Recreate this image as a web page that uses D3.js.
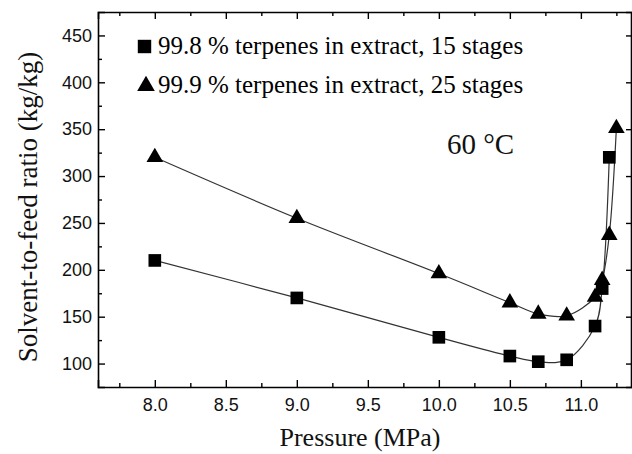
<!DOCTYPE html>
<html>
<head>
<meta charset="utf-8">
<script src="https://cdn.jsdelivr.net/npm/d3@7"></script>
<style>
  body { margin: 0; background: #fff; }
  svg { display: block; }
  .sans { font-family: "Liberation Sans", Arimo, Arial, Helvetica, sans-serif; }
  .serif { font-family: "Liberation Serif", Tinos, "Times New Roman", Times, "DejaVu Serif", serif; }
</style>
</head>
<body>
<svg id="chart" width="632" height="454"></svg>
<script>
// THE DATA
// pressure (MPa) for each series
const pressSquares = [8.0, 9.0, 10.0, 10.5, 10.7, 10.9, 11.1, 11.15, 11.2];
const ratioSquares = [210, 170, 128, 108, 102, 104, 140, 180, 320];

const pressTriangles = [8.0, 9.0, 10.0, 10.5, 10.7, 10.9, 11.1, 11.15, 11.2, 11.25];
const ratioTriangles = [320, 255, 196, 165, 153, 151, 171, 189, 237, 351];

const xTicks = [8.0, 8.5, 9.0, 9.5, 10.0, 10.5, 11.0];
const xMinor = [7.75, 8.25, 8.75, 9.25, 9.75, 10.25, 10.75, 11.25];
const yTicks = [100, 150, 200, 250, 300, 350, 400, 450];
const yMinor = [125, 175, 225, 275, 325, 375, 425];

const legendLabels = [
  "99.8 % terpenes in extract, 15 stages",
  "99.9 % terpenes in extract, 25 stages"
];

// SETTING UP
const svg = d3.select("#chart");
const mLeft = 98, mRight = 632, mTop = 12, mBottom = 387;

const x = d3.scaleLinear().domain([7.6, 11.36]).range([mLeft, mRight]);
const y = d3.scaleLinear().domain([75, 475]).range([mBottom, mTop]);

// axes (ticks point inward)
function styleAxis(g, fontSize) {
  g.attr("font-family", null);
  g.selectAll("path.domain").attr("stroke", "#000").attr("stroke-width", 1.6);
  g.selectAll(".tick line").attr("stroke", "#000").attr("stroke-width", 1.4);
  g.selectAll("text").attr("class", "sans").style("font-size", fontSize + "px").attr("fill", "#111");
}

svg.append("g")
  .attr("transform", `translate(0,${mBottom})`)
  .call(d3.axisBottom(x).tickValues(xTicks).tickSize(-7).tickPadding(11).tickFormat(d3.format(".1f")))
  .call(g => styleAxis(g, 18));

svg.append("g")
  .attr("transform", `translate(0,${mBottom})`)
  .call(d3.axisBottom(x).tickValues(xMinor).tickSize(-4).tickFormat(""))
  .call(g => styleAxis(g, 18))
  .call(g => g.select("path.domain").remove());

svg.append("g")
  .attr("transform", `translate(0,${mTop})`)
  .call(d3.axisTop(x).tickValues(xTicks).tickSize(-7).tickFormat(""))
  .call(g => styleAxis(g, 18));

svg.append("g")
  .attr("transform", `translate(0,${mTop})`)
  .call(d3.axisTop(x).tickValues(xMinor).tickSize(-4).tickFormat(""))
  .call(g => styleAxis(g, 18))
  .call(g => g.select("path.domain").remove());

svg.append("g")
  .attr("transform", `translate(${mLeft},0)`)
  .call(d3.axisLeft(y).tickValues(yTicks).tickSize(-7).tickPadding(6))
  .call(g => styleAxis(g, 18));

svg.append("g")
  .attr("transform", `translate(${mLeft},0)`)
  .call(d3.axisLeft(y).tickValues(yMinor).tickSize(-4).tickFormat(""))
  .call(g => styleAxis(g, 18))
  .call(g => g.select("path.domain").remove());

svg.append("g")
  .attr("transform", `translate(${mRight - 1},0)`)
  .call(d3.axisRight(y).tickValues(yTicks).tickSize(-5).tickFormat(""))
  .call(g => styleAxis(g, 18));

// axis titles
svg.append("text")
  .attr("class", "serif")
  .attr("x", 360)
  .attr("y", 446)
  .attr("text-anchor", "middle")
  .style("font-size", "26px")
  .attr("fill", "#111")
  .text("Pressure (MPa)");

svg.append("text")
  .attr("class", "serif")
  .attr("transform", "translate(37,207) rotate(-90)")
  .attr("text-anchor", "middle")
  .style("font-size", "27px")
  .attr("fill", "#111")
  .text("Solvent-to-feed ratio (kg/kg)");

// LINES AND MARKERS
const line = d3.line()
  .x(d => x(d[0]))
  .y(d => y(d[1]))
  .curve(d3.curveCatmullRom.alpha(0.5));

const sqData = d3.zip(pressSquares, ratioSquares);
const trData = d3.zip(pressTriangles, ratioTriangles);

[sqData, trData].forEach(data => {
  svg.append("path")
    .datum(data)
    .attr("d", line)
    .attr("fill", "none")
    .attr("stroke", "#333")
    .attr("stroke-width", 1.2);
});

const squareSym = d3.symbol().type(d3.symbolSquare).size(160);
const triSym = d3.symbol().type(d3.symbolTriangle).size(120);

svg.append("g")
  .selectAll("path")
  .data(sqData)
  .join("path")
  .attr("transform", d => `translate(${x(d[0])},${y(d[1])})`)
  .attr("d", squareSym)
  .attr("fill", "#000");

svg.append("g")
  .selectAll("path")
  .data(trData)
  .join("path")
  .attr("transform", d => `translate(${x(d[0])},${y(d[1])})`)
  .attr("d", triSym)
  .attr("fill", "#000");

// LEGEND
const legend = svg.append("g");
legend.append("path")
  .attr("transform", "translate(144.5,46.5)")
  .attr("d", d3.symbol().type(d3.symbolSquare).size(180))
  .attr("fill", "#000");
legend.append("path")
  .attr("transform", "translate(146,86)")
  .attr("d", d3.symbol().type(d3.symbolTriangle).size(135))
  .attr("fill", "#000");

legend.selectAll("text")
  .data(legendLabels)
  .join("text")
  .attr("class", "serif")
  .attr("x", 158)
  .attr("y", (d, i) => 54 + i * 39)
  .style("font-size", "25px")
  .attr("fill", "#000")
  .text(d => d);

svg.append("text")
  .attr("class", "serif")
  .attr("x", 447)
  .attr("y", 154)
  .style("font-size", "29px")
  .attr("fill", "#111")
  .text("60 °C");
</script>
</body>
</html>
